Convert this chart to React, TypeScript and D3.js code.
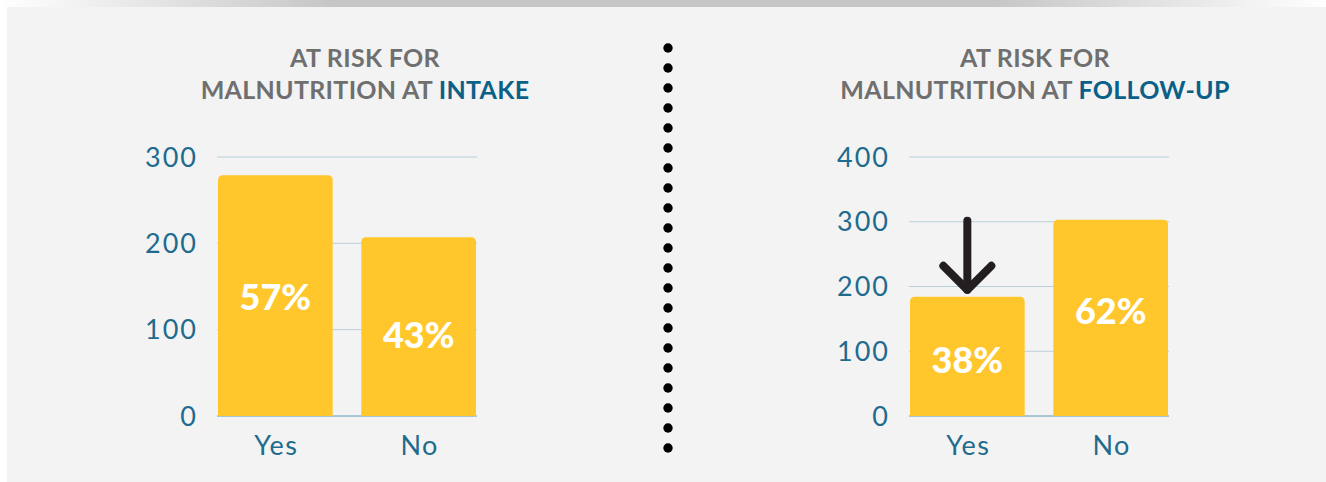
import React from "react";
import * as d3 from "d3";

// values
const categories = ["Yes", "No"];
const intakeValues = [279, 207];
const intakeLabels = ["57%", "43%"];
const intakeLabelAt = [138, 94];
const intakeTicks = [0, 100, 200, 300];

const followValues = [184, 303];
const followLabels = ["38%", "62%"];
const followLabelAt = [86, 162];
const followTicks = [0, 100, 200, 300, 400];

const W = 1326;
const H = 482;
const BAR = "#ffc72c";
const AXIS_TEXT = "#1f6b8e";
const TITLE_GRAY = "#6f6f6f";
const TITLE_BLUE = "#0b6088";

type PanelProps = {
  x0: number;
  x1: number;
  max: number;
  ticks: number[];
  values: number[];
  labels: string[];
  labelAt: number[];
  highlight: string;
  titleX: number;
  arrowOn?: number;
};

function roundTopRect(x: number, y: number, w: number, h: number, r: number) {
  return `M${x},${y + h} V${y + r} Q${x},${y} ${x + r},${y} H${x + w - r} Q${x + w},${y} ${x + w},${y + r} V${y + h} Z`;
}

function Panel(p: PanelProps) {
  const y = d3.scaleLinear().domain([0, p.max]).range([416, 157]);
  const x = d3.scaleBand().domain(categories).range([p.x0 + 1, p.x1 - 1]).paddingInner(0.2).paddingOuter(0);
  const bw = x.bandwidth();
  return (
    <g>
      <text x={p.titleX} y={67} textAnchor="middle" fontFamily="Lato" fontWeight={700} fontSize={25} letterSpacing={0.3} fill={TITLE_GRAY}>
        AT RISK FOR
      </text>
      <text x={p.titleX} y={99} textAnchor="middle" fontFamily="Lato" fontWeight={700} fontSize={25} letterSpacing={0.3} fill={TITLE_GRAY}>
        MALNUTRITION AT <tspan fill={TITLE_BLUE}>{p.highlight}</tspan>
      </text>
      {p.ticks.map((t) => (
        <g key={t}>
          <line x1={p.x0} x2={p.x1} y1={y(t)} y2={y(t)} stroke={t === 0 ? "#5f9bb6" : "#b9d0dc"} strokeWidth={1} />
          <text x={p.x0 - 19} y={y(t)} dy="0.36em" textAnchor="end" fontFamily="Lato" fontSize={27} letterSpacing={2} fill={AXIS_TEXT}>
            {t}
          </text>
        </g>
      ))}
      {categories.map((c, i) => (
        <g key={c}>
          <path d={roundTopRect(x(c)!, y(p.values[i]), bw, y(0) - y(p.values[i]), 5)} fill={BAR} />
          <text x={x(c)! + bw / 2} y={y(p.labelAt[i])} dy="0.36em" textAnchor="middle" fontFamily="Lato" fontWeight={900} fontSize={36} fill="#ffffff">
            {p.labels[i]}
          </text>
          <text x={x(c)! + bw / 2 + 1} y={455} textAnchor="middle" fontFamily="Lato" fontSize={27} letterSpacing={1.5} fill={AXIS_TEXT}>
            {c}
          </text>
        </g>
      ))}
      {p.arrowOn !== undefined && (() => {
        const c = categories[p.arrowOn];
        const cx = x(c)! + bw / 2;
        const tip = y(p.values[p.arrowOn]) - 7;
        return (
          <g stroke="#231f20" strokeWidth={8} strokeLinecap="round" strokeLinejoin="round" fill="none">
            <line x1={cx} x2={cx} y1={tip - 69} y2={tip} />
            <polyline points={`${cx - 24},${tip - 24} ${cx},${tip} ${cx + 24},${tip - 24}`} />
          </g>
        );
      })()}
    </g>
  );
}

export default function App() {
  const dots = d3.range(21);
  return (
    <svg width={W} height={H} style={{ position: "absolute", left: 0, top: 0 }}>
      <defs>
        <linearGradient id="topband" x1="0" x2="1" y1="0" y2="0">
          <stop offset="0" stopColor="#ffffff" />
          <stop offset="0.25" stopColor="#c6c6c6" />
          <stop offset="0.75" stopColor="#c6c6c6" />
          <stop offset="1" stopColor="#ffffff" />
        </linearGradient>
      </defs>
      <rect x={0} y={0} width={W} height={H} fill="#ffffff" />
      <rect x={0} y={0} width={W} height={7} fill="url(#topband)" />
      <rect x={7} y={7} width={W - 7} height={H - 7} fill="#f3f3f3" />
      <Panel x0={217} x1={477} max={300} ticks={intakeTicks} values={intakeValues} labels={intakeLabels} labelAt={intakeLabelAt} highlight="INTAKE" titleX={365} />
      <Panel x0={909} x1={1169} max={400} ticks={followTicks} values={followValues} labels={followLabels} labelAt={followLabelAt} highlight="FOLLOW-UP" titleX={1035} arrowOn={0} />
      {dots.map((d) => (
        <circle key={d} cx={668} cy={48 + d * 20} r={4.7} fill="#000000" />
      ))}
    </svg>
  );
}
